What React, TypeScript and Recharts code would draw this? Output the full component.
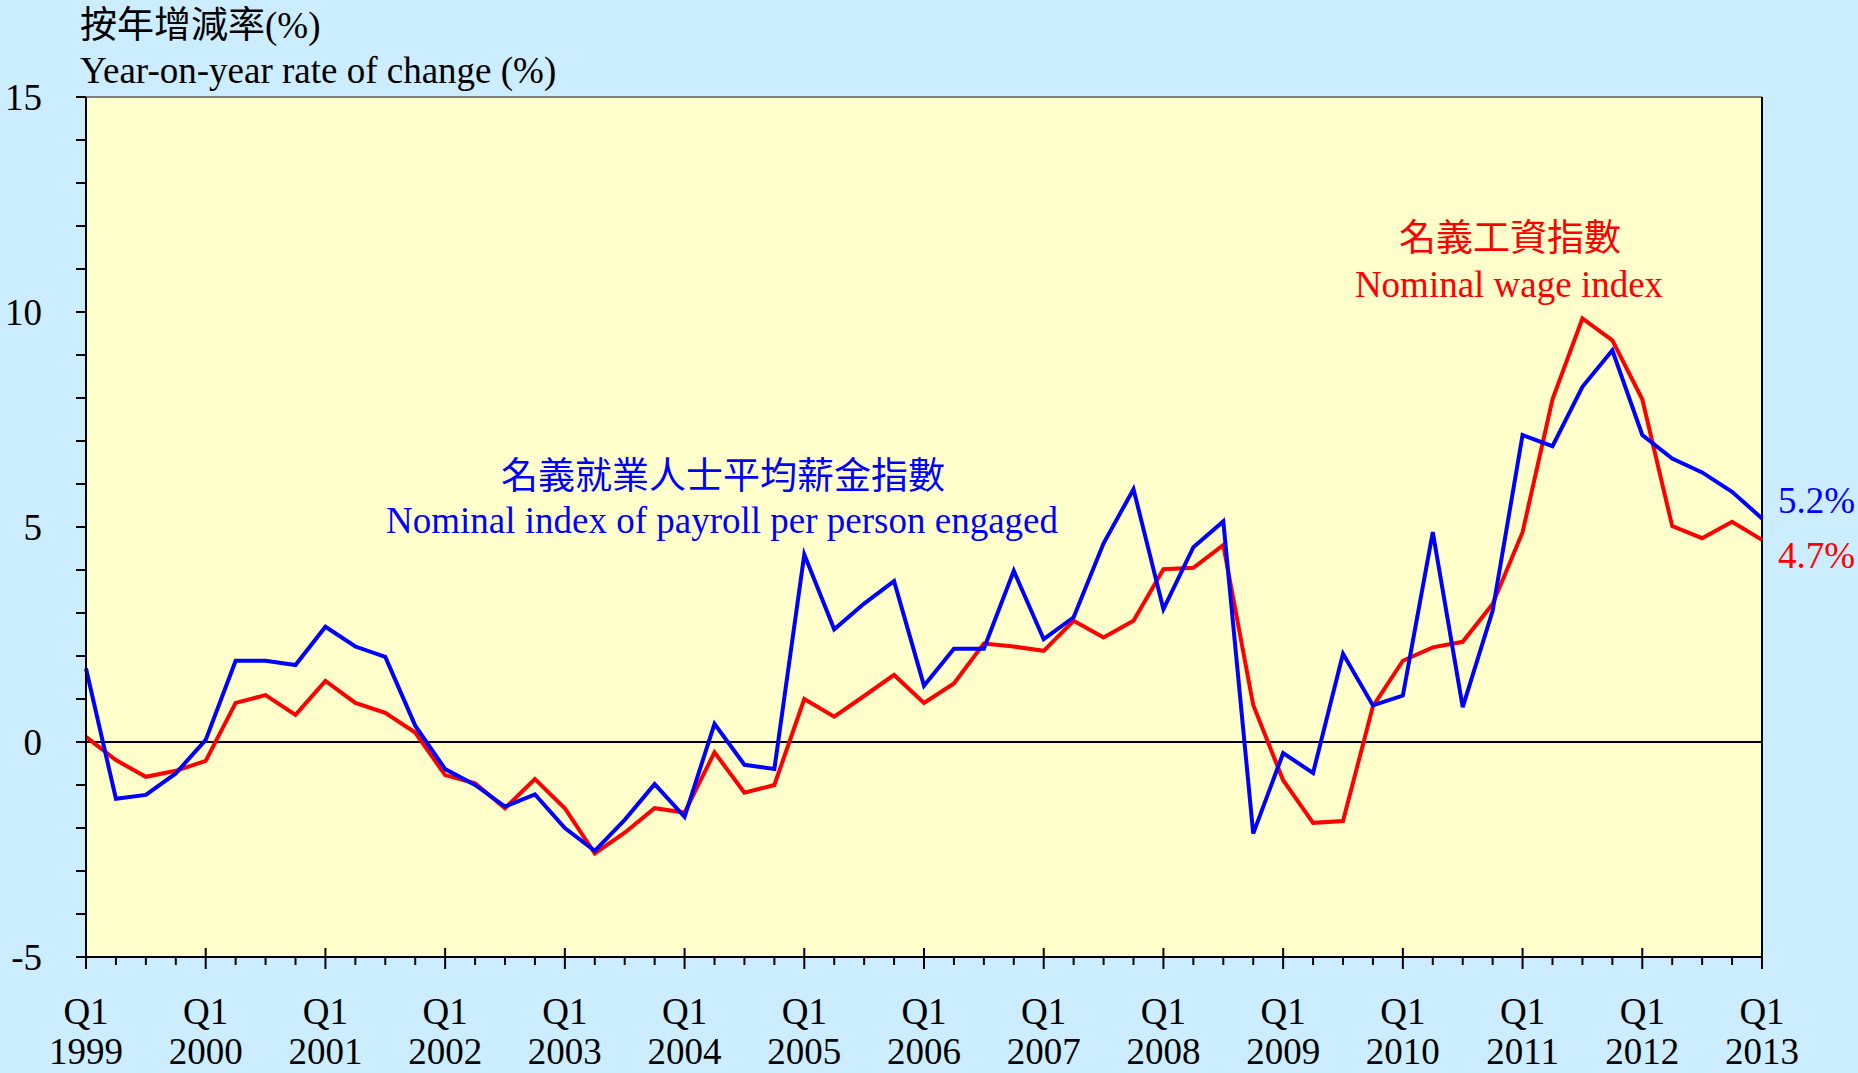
import React from "react";
import {
  LineChart,
  Line,
  XAxis,
  YAxis,
  CartesianGrid,
  ReferenceLine,
} from "recharts";

// Q1 1999 .. Q1 2013, quarterly
const years = [1999, 2000, 2001, 2002, 2003, 2004, 2005, 2006, 2007, 2008, 2009, 2010, 2011, 2012, 2013];
const quarterNames = ["Q1", "Q2", "Q3", "Q4"];

// Nominal index of payroll per person engaged (yoy %)
const payrollIndex = [
  1.71, -1.32, -1.23, -0.73, 0.05, 1.89, 1.89, 1.79, 2.68, 2.22, 1.98, 0.38,
  -0.63, -1.0, -1.5, -1.22, -2.0, -2.53, -1.81, -0.98, -1.74, 0.42, -0.53, -0.63,
  4.36, 2.62, 3.22, 3.74, 1.31, 2.17, 2.17, 3.98, 2.39, 2.9, 4.62, 5.88,
  3.09, 4.53, 5.13, -2.13, -0.26, -0.72, 2.05, 0.85, 1.08, 4.88, 0.81, 3.05,
  7.14, 6.88, 8.26, 9.11, 7.14, 6.59, 6.27, 5.82, 5.2,
];

// Nominal wage index (yoy %)
const wageIndex = [
  0.12, -0.42, -0.81, -0.67, -0.44, 0.91, 1.09, 0.63, 1.42, 0.91, 0.68, 0.22,
  -0.77, -0.96, -1.54, -0.86, -1.54, -2.59, -2.11, -1.54, -1.64, -0.24, -1.18, -1.0,
  1.0, 0.59, 1.07, 1.56, 0.91, 1.36, 2.29, 2.22, 2.12, 2.82, 2.43, 2.82,
  4.02, 4.05, 4.58, 0.86, -0.89, -1.88, -1.84, 0.83, 1.89, 2.2, 2.33, 3.21,
  4.88, 7.97, 9.85, 9.34, 7.97, 5.02, 4.74, 5.12, 4.7,
];

const yTicks = [-5, -4, -3, -2, -1, 0, 1, 2, 3, 4, 5, 6, 7, 8, 9, 10, 11, 12, 13, 14, 15];

const quarters: { q: string; year: number }[] = [];
years.forEach((y) =>
  quarterNames.forEach((q) => {
    if (quarters.length < payrollIndex.length) quarters.push({ q, year: y });
  })
);

const data = quarters.map((qt, i) => ({
  idx: i,
  label: `${qt.q} ${qt.year}`,
  payroll: payrollIndex[i],
  wage: wageIndex[i],
}));

const xTicks = data.map((d) => d.idx);

const SERIF = "'Liberation Serif', 'Times New Roman', 'Noto Sans CJK TC', serif";
const FS = 37;

const XTick = (props: any) => {
  const { x, y, payload } = props;
  const i = payload.value as number;
  const qt = quarters[i];
  if (qt.q !== "Q1") {
    return <line x1={x} x2={x} y1={y} y2={y + 8} stroke="#000" strokeWidth={2} />;
  }
  return (
    <g>
      <line x1={x} x2={x} y1={y - 9} y2={y + 12} stroke="#000" strokeWidth={2} />
      <text x={x} y={y + 67} textAnchor="middle" fontFamily={SERIF} fontSize={FS} fill="#000">
        {qt.q}
      </text>
      <text x={x} y={y + 107} textAnchor="middle" fontFamily={SERIF} fontSize={FS} fill="#000">
        {qt.year}
      </text>
    </g>
  );
};

const YTick = (props: any) => {
  const { x, y, payload } = props;
  const v = payload.value as number;
  return (
    <g>
      <line x1={x - 10} x2={x} y1={y} y2={y} stroke="#000" strokeWidth={2} />
      {v % 5 === 0 && (
        <text x={x - 44} y={y + 12.5} textAnchor="end" fontFamily={SERIF} fontSize={FS} fill="#000">
          {v}
        </text>
      )}
    </g>
  );
};

export default function App() {
  const lastPayroll = payrollIndex[payrollIndex.length - 1];
  const lastWage = wageIndex[wageIndex.length - 1];
  return (
    <div style={{ position: "relative", width: 1858, height: 1073, background: "#CCECFF" }}>
      <style>{`body{margin:0}`}</style>
      <LineChart
        width={1858}
        height={1073}
        data={data}
        margin={{ top: 97, right: 96, bottom: 0, left: 0 }}
      >
        <CartesianGrid horizontal={false} vertical={false} fill="#FFFFCC" stroke="none" />
        <XAxis
          type="number"
          dataKey="idx"
          domain={[0, 56]}
          ticks={xTicks}
          interval={0}
          height={116}
          tickSize={0}
          tickMargin={0}
          tickLine={false}
          tick={<XTick />}
          axisLine={{ stroke: "#000", strokeWidth: 2 }}
        />
        <YAxis
          type="number"
          domain={[-5, 15]}
          ticks={yTicks}
          interval={0}
          width={86}
          tickSize={0}
          tickMargin={0}
          tickLine={false}
          tick={<YTick />}
          axisLine={{ stroke: "#000", strokeWidth: 2 }}
        />
        <ReferenceLine y={15} stroke="#808080" strokeWidth={2} />
        <ReferenceLine x={56} stroke="#000" strokeWidth={2} />
        <ReferenceLine y={0} stroke="#000" strokeWidth={2} />
        <Line
          type="linear"
          dataKey="wage"
          stroke="#FF0000"
          strokeWidth={4}
          dot={false}
          isAnimationActive={false}
        />
        <Line
          type="linear"
          dataKey="payroll"
          stroke="#0000FF"
          strokeWidth={4}
          dot={false}
          isAnimationActive={false}
        />
      </LineChart>
      <svg
        width={1858}
        height={1073}
        style={{ position: "absolute", left: 0, top: 0, pointerEvents: "none" }}
      >
        <g fontFamily={SERIF} fontSize={FS}>
          <text x={80} y={38} fill="#000">按年增減率(%)</text>
          <text x={80} y={83} fill="#000">Year-on-year rate of change (%)</text>
          <text x={723} y={489} fill="#0000FF" textAnchor="middle">名義就業人士平均薪金指數</text>
          <text x={722} y={533} fill="#0000FF" textAnchor="middle">Nominal index of payroll per person engaged</text>
          <text x={1510} y={251} fill="#FF0000" textAnchor="middle">名義工資指數</text>
          <text x={1509} y={297} fill="#FF0000" textAnchor="middle">Nominal wage index</text>
          <text x={1778} y={513} fill="#0000FF">{`${lastPayroll.toFixed(1)}%`}</text>
          <text x={1778} y={568} fill="#FF0000">{`${lastWage.toFixed(1)}%`}</text>
        </g>
      </svg>
    </div>
  );
}
